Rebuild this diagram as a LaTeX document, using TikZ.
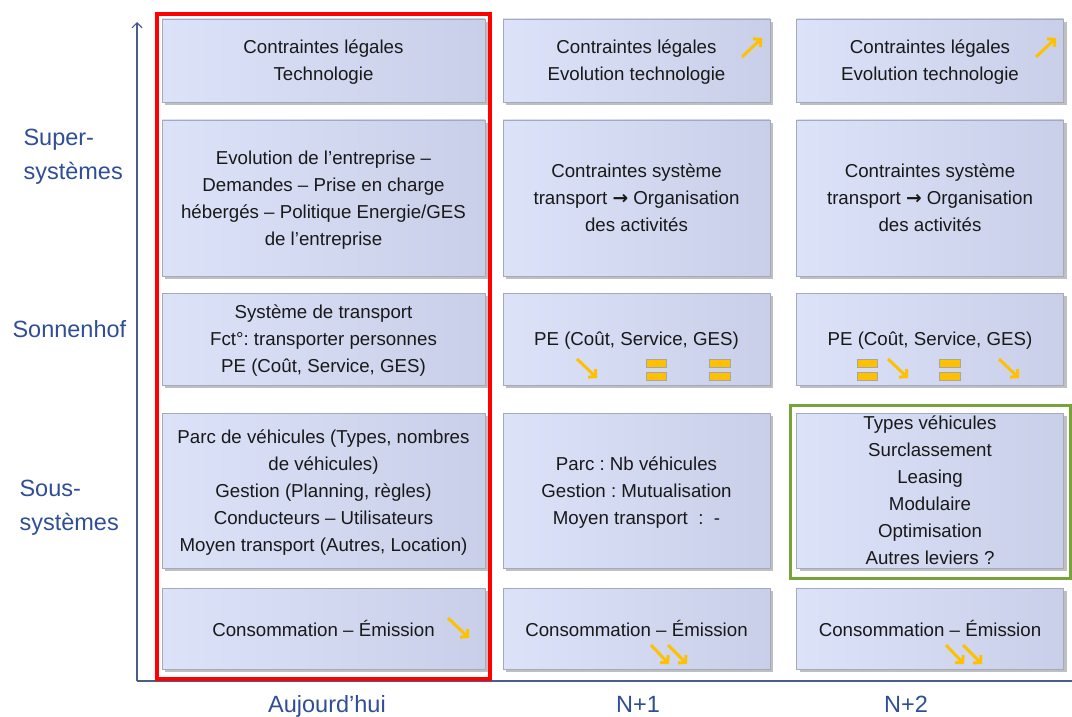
\documentclass[tikz,border=0pt]{standalone}
\usepackage{fontspec}
\setmainfont{Liberation Sans}
\newfontfamily\arrowfont{DejaVu Sans}
\frenchspacing
\usetikzlibrary{arrows.meta,shadows}
\definecolor{cellhi}{HTML}{DCE2F8}
\definecolor{cello}{HTML}{C9CFE8}
\definecolor{cellline}{HTML}{A3AABB}
\definecolor{axisblue}{HTML}{4A5E8E}
\definecolor{labblue}{HTML}{2F4E96}
\definecolor{trendorg}{HTML}{FFC000}
\definecolor{eqline}{HTML}{A6A6A6}
\definecolor{keepred}{HTML}{FF0000}
\definecolor{levgreen}{HTML}{77A33A}
\newcommand{\thento}{{\arrowfont\bfseries →}}

\begin{document}
\begin{tikzpicture}[x=1pt,y=-1pt,
  cell/.style={draw=cellline,line width=0.6pt,left color=cellhi,right color=cello,
    drop shadow={shadow xshift=3pt,shadow yshift=-3pt,fill=black,opacity=0.25},
    align=center,inner sep=0pt,text=black!90,font=\fontsize{18.7}{27}\selectfont,
    text depth=-8pt},
  wide/.style={minimum width=323pt},
  narrow/.style={minimum width=267pt},
  sidelab/.style={anchor=west,align=left,text=labblue,font=\fontsize{23.5}{34}\selectfont},
  collab/.style={anchor=base,text=labblue,font=\fontsize{23.5}{34}\selectfont},
  axis/.style={draw=axisblue,line width=1.2pt},
  trend/.style={draw=trendorg,line width=3pt,-{Straight Barb[length=5pt,width=11pt]}},
  eqbar/.style={fill=trendorg,draw=eqline,line width=0.8pt},
  keepframe/.style={draw=keepred,line width=4pt},
  leverframe/.style={draw=levgreen,line width=3pt}]
\useasboundingbox (0,0) rectangle (1072,717);

% axes
\coordinate (origin) at (137,681);
\coordinate (ytop) at (137,22);
\coordinate (xend) at (1072,681);
\draw[axis,-{Straight Barb[length=5pt,width=10pt]}] (origin) -- (ytop);
\draw[axis] (origin) -- (xend);

% today
\node[cell,wide,minimum height=83pt] (c11) at (323.5,60.5) {Contraintes légales\\Technologie};
\node[cell,wide,minimum height=156pt] (c21) at (323.5,198) {Evolution de l’entreprise –\\Demandes – Prise en charge\\hébergés – Politique Energie/GES\\de l’entreprise};
\node[cell,wide,minimum height=92pt] (c31) at (323.5,339) {Système de transport\\Fct°: transporter personnes\\PE (Coût, Service, GES)};
\node[cell,wide,minimum height=155pt] (c41) at (323.5,490.5) {Parc de véhicules (Types, nombres\\de véhicules)\\Gestion (Planning, règles)\\Conducteurs – Utilisateurs\\Moyen transport (Autres, Location)};
\node[cell,wide,minimum height=81pt] (c51) at (323.5,628.5) {Consommation – Émission};

% N+1
\node[cell,narrow,minimum height=83pt] (c12) at (636.5,60.5) {Contraintes légales\\Evolution technologie};
\node[cell,narrow,minimum height=156pt] (c22) at (636.5,198) {Contraintes système\\transport \thento{} Organisation\\des activités};
\node[cell,narrow,minimum height=92pt] (c32) at (636.5,339) {PE (Coût, Service, GES)};
\node[cell,narrow,minimum height=155pt] (c42) at (636.5,490.5) {Parc : Nb véhicules\\Gestion : Mutualisation\\Moyen transport~ : ~-};
\node[cell,narrow,minimum height=81pt] (c52) at (636.5,628.5) {Consommation – Émission};

% N+2
\node[cell,narrow,minimum height=83pt] (c13) at (930,60.5) {Contraintes légales\\Evolution technologie};
\node[cell,narrow,minimum height=156pt] (c23) at (930,198) {Contraintes système\\transport \thento{} Organisation\\des activités};
\node[cell,narrow,minimum height=92pt] (c33) at (930,339) {PE (Coût, Service, GES)};
\node[cell,narrow,minimum height=155pt] (c43) at (930,490.5) {Types véhicules\\Surclassement\\Leasing\\Modulaire\\Optimisation\\Autres leviers ?};
\node[cell,narrow,minimum height=81pt] (c53) at (930,628.5) {Consommation – Émission};

% trends
\draw[trend] (742,57) -- (762,38);
\draw[trend] (1036,57) -- (1056,38);
\draw[trend] (577,359) -- (597,378);
\draw[trend] (888,359) -- (908,378);
\draw[trend] (999,359) -- (1019,378);
\draw[trend] (448,618) -- (469,638);
\draw[trend] (651,645) -- (669,664);
\draw[trend] (668,645) -- (687,664);
\draw[trend] (946,645) -- (964,664);
\draw[trend] (963,645) -- (982,664);
\draw[eqbar] (646,359) rectangle (666,367);
\draw[eqbar] (646,372) rectangle (666,380);
\draw[eqbar] (709,359) rectangle (730,367);
\draw[eqbar] (709,372) rectangle (730,380);
\draw[eqbar] (857,359) rectangle (877,367);
\draw[eqbar] (857,372) rectangle (877,380);
\draw[eqbar] (939,359) rectangle (960,367);
\draw[eqbar] (939,372) rectangle (960,380);

% frames
\draw[keepframe] (157,14.5) rectangle (490,679);
\draw[leverframe] (790,405) rectangle (1070,578);

% labels
\node[sidelab] (supsys) at (20,157) {Super-\\systèmes};
\node[sidelab] (sonnen) at (9,329) {Sonnenhof};
\node[sidelab] (soussys) at (16,508) {Sous-\\systèmes};
\node[collab] (today) at (327,712) {Aujourd’hui};
\node[collab] (nplus1) at (638,712) {N+1};
\node[collab] (nplus2) at (906,712) {N+2};
\end{tikzpicture}
\end{document}
